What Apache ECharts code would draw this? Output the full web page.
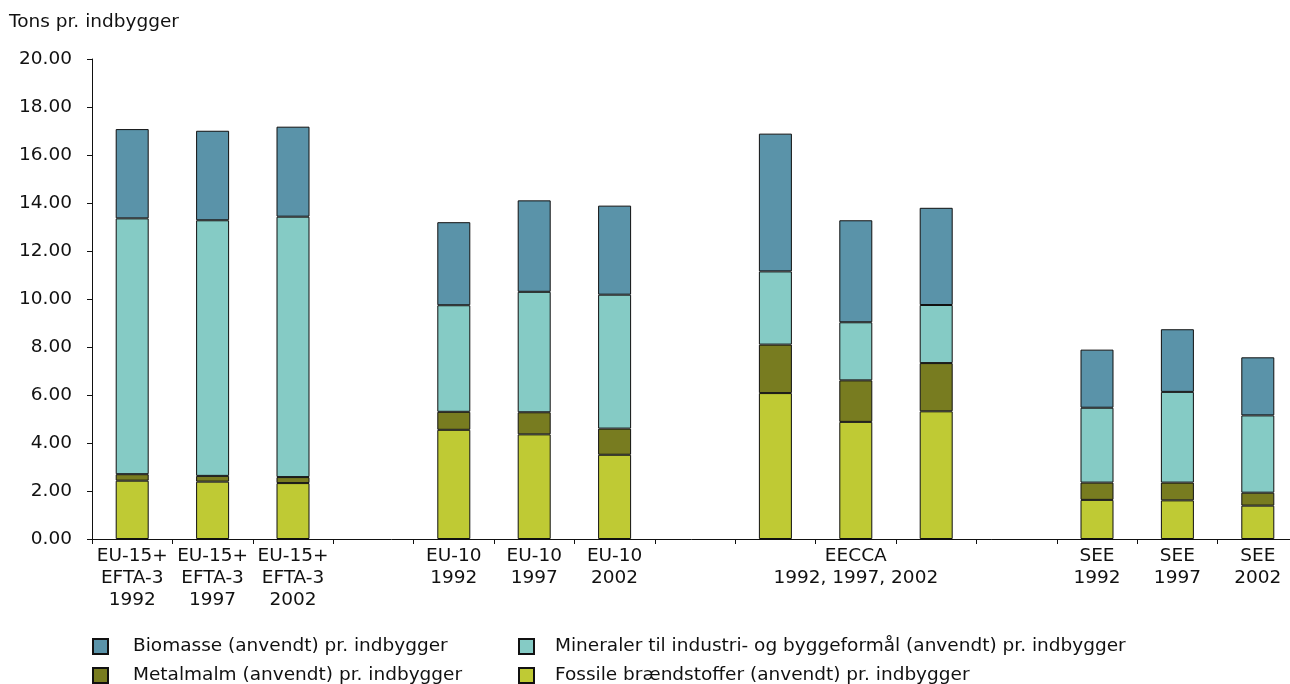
<!DOCTYPE html>
<html>
<head>
<meta charset="utf-8">
<title>Materialeforbrug pr. indbygger</title>
<script src="https://cdn.jsdelivr.net/npm/echarts@6/dist/echarts.min.js"></script>
<style>
  html, body { margin: 0; padding: 0; background: #fff; }
  #chart { width: 1290px; height: 684px; }
</style>
</head>
<body>
<div id="chart"></div>
<script>
// Category slots; blank strings are spacer slots between the regions
const categories = [
  'EU-15+\nEFTA-3\n1992', 'EU-15+\nEFTA-3\n1997', 'EU-15+\nEFTA-3\n2002', '',
  'EU-10\n1992', 'EU-10\n1997', 'EU-10\n2002', '',
  ' ', 'EECCA\n1992, 1997, 2002', '  ', '   ',
  'SEE\n1992', 'SEE\n1997', 'SEE\n2002'
];

// Tons per inhabitant, per material group (null = spacer slot)
const fossil   = [2.43, 2.39, 2.33, null, 4.55, 4.36, 3.51, null, 6.08, 4.88, 5.32, null, 1.63, 1.61, 1.39];
const metal    = [0.27, 0.24, 0.25, null, 0.75, 0.92, 1.09, null, 2.02, 1.73, 2.01, null, 0.72, 0.74, 0.54];
const minerals = [10.66, 10.65, 10.85, null, 4.44, 5.02, 5.58, null, 3.05, 2.42, 2.42, null, 3.12, 3.78, 3.22];
const biomass  = [3.72, 3.73, 3.75, null, 3.46, 3.81, 3.71, null, 5.74, 4.25, 4.05, null, 2.42, 2.61, 2.42];

const yTicks = { min: 0, max: 20, interval: 2 };

const names = {
  biomass: 'Biomasse (anvendt) pr. indbygger',
  minerals: 'Mineraler til industri- og byggeformål (anvendt) pr. indbygger',
  metal: 'Metalmalm (anvendt) pr. indbygger',
  fossil: 'Fossile brændstoffer (anvendt) pr. indbygger'
};

const colors = {
  biomass: '#5A93A9',
  minerals: '#85CBC5',
  metal: '#787C20',
  fossil: '#BFCA34'
};

const FONT = 'DejaVu Sans';
const FS = 18.5;

function barSeries(key, data) {
  return {
    name: names[key],
    type: 'bar',
    stack: 'total',
    barWidth: 33,
    data: data,
    itemStyle: { color: colors[key], borderColor: '#111', borderWidth: 1 },
    emphasis: { disabled: true }
  };
}

// One legend entry per box so the two columns line up
function legendItem(key, left, top, gap) {
  return {
    left: left, top: top, padding: 0,
    itemWidth: 15, itemHeight: 15,
    icon: 'rect',
    data: [names[key]],
    selectedMode: false,
    textStyle: {
      fontFamily: FONT, fontSize: FS, color: '#111',
      lineHeight: 16, padding: [0, 0, 0, gap]
    }
  };
}

const chart = echarts.init(document.getElementById('chart'), null, { renderer: 'canvas' });
chart.setOption({
  animation: false,
  backgroundColor: '#fff',
  textStyle: { fontFamily: FONT },
  title: {
    text: 'Tons pr. indbygger',
    left: 9, top: 13, padding: 0,
    textStyle: { fontFamily: FONT, fontSize: FS, fontWeight: 'normal', color: '#111' }
  },
  grid: {
    left: 92, top: 59, width: 1206, height: 480,
    containLabel: false, outerBoundsMode: 'none'
  },
  legend: [
    legendItem('biomass', 92, 637, 20),
    legendItem('metal', 92, 666, 20),
    legendItem('minerals', 518, 637, 16),
    legendItem('fossil', 518, 666, 16)
  ],
  xAxis: {
    type: 'category',
    data: categories,
    axisLine: { lineStyle: { color: '#111', width: 1 } },
    axisTick: { show: true, length: 5, interval: 0, lineStyle: { color: '#111' } },
    axisLabel: {
      interval: 0, hideOverlap: false,
      fontFamily: FONT, fontSize: FS, color: '#111',
      lineHeight: 22, margin: 6
    }
  },
  yAxis: {
    type: 'value',
    min: yTicks.min, max: yTicks.max, interval: yTicks.interval,
    axisLine: { show: true, lineStyle: { color: '#111', width: 1 } },
    axisTick: { show: true, length: 5, lineStyle: { color: '#111' } },
    splitLine: { show: false },
    axisLabel: {
      fontFamily: FONT, fontSize: FS, color: '#111', margin: 20,
      formatter: v => v.toFixed(2)
    }
  },
  series: [
    barSeries('fossil', fossil),
    barSeries('metal', metal),
    barSeries('minerals', minerals),
    barSeries('biomass', biomass)
  ]
});
</script>
</body>
</html>
